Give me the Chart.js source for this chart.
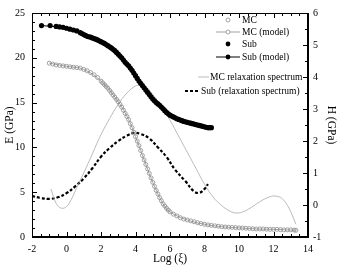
<!DOCTYPE html>
<html>
<head>
<meta charset="utf-8">
<script src="https://cdn.jsdelivr.net/npm/chart.js@4/dist/chart.umd.min.js"></script>
<style>
  html, body { margin: 0; padding: 0; background: #fff; }
  #wrap { width: 338px; height: 266px; }
</style>
</head>
<body>
<div id="wrap"><canvas id="chart"></canvas></div>
<script>
// MC measured modulus (open circles)
const mcX = [-1.0, -0.8, -0.6, -0.4, -0.2, 0, 0.2, 0.4, 0.6, 0.8, 1.0, 1.2, 1.4, 1.6, 1.8,
  2.0, 2.1, 2.2, 2.3, 2.4, 2.5, 2.6, 2.7, 2.8, 2.9, 3.0, 3.1, 3.2, 3.3, 3.4, 3.5, 3.6, 3.7, 3.8, 3.9,
  4.0, 4.1, 4.2, 4.3, 4.4, 4.5, 4.6, 4.7, 4.8, 4.9, 5.0, 5.1, 5.2, 5.3, 5.4, 5.5, 5.6, 5.7, 5.8, 5.9,
  6.0, 6.2, 6.4, 6.6, 6.8, 7.0, 7.2, 7.4, 7.6, 7.8, 8.0, 8.2, 8.4, 8.6, 8.8, 9.0, 9.2, 9.4, 9.6, 9.8,
  10.0, 10.2, 10.4, 10.6, 10.8, 11.0, 11.2, 11.4, 11.6, 11.8, 12.0, 12.2, 12.4, 12.6, 12.8, 13.0, 13.2, 13.3];
const mcE = [19.4, 19.3, 19.2, 19.15, 19.1, 19.05, 19.0, 18.95, 18.9, 18.85, 18.7, 18.55, 18.35, 18.1, 17.8,
  17.4, 17.2, 17.0, 16.8, 16.6, 16.35, 16.1, 15.85, 15.6, 15.35, 15.1, 14.8, 14.5, 14.15, 13.8, 13.45, 13.1, 12.65, 12.2, 11.7,
  11.2, 10.7, 10.2, 9.65, 9.1, 8.6, 8.1, 7.6, 7.1, 6.6, 6.1, 5.65, 5.2, 4.8, 4.4, 4.05, 3.7, 3.45, 3.2, 3.0,
  2.8, 2.55, 2.35, 2.15, 2.0, 1.9, 1.8, 1.7, 1.6, 1.5, 1.42, 1.35, 1.3, 1.25, 1.2, 1.15, 1.12, 1.1, 1.07, 1.05,
  1.02, 1.0, 0.97, 0.95, 0.92, 0.9, 0.9, 0.9, 0.87, 0.85, 0.85, 0.85, 0.82, 0.8, 0.8, 0.8, 0.77, 0.75];

// MC model curve
const mcModelX = [-1.0, 0, 1.0, 2.0, 3.0, 3.6, 4.0, 4.6, 5.0, 5.6, 6.0, 7.0, 8.0, 9.0, 10.0, 11.0, 12.0, 13.3];
const mcModelE = [19.4, 19.05, 18.7, 17.4, 15.1, 13.1, 11.2, 8.1, 6.1, 3.7, 2.8, 1.9, 1.42, 1.15, 1.02, 0.9, 0.85, 0.75];

// Sub measured modulus (filled circles)
const subX = [-1.45, -0.95, -0.6, -0.4, -0.2, 0, 0.2, 0.4, 0.6,
  0.8, 0.9, 1.0, 1.1, 1.2, 1.3, 1.4, 1.5, 1.6, 1.7, 1.8, 1.9, 2.0, 2.1, 2.2, 2.3, 2.4, 2.5, 2.6, 2.7, 2.8, 2.9,
  3.0, 3.1, 3.2, 3.3, 3.4, 3.5, 3.6, 3.7, 3.8, 3.9, 4.0, 4.1, 4.2, 4.3, 4.4, 4.5, 4.6, 4.7, 4.8, 4.9,
  5.0, 5.1, 5.2, 5.3, 5.4, 5.5, 5.6, 5.7, 5.8, 5.9, 6.0, 6.1, 6.2, 6.3, 6.4, 6.5, 6.6, 6.7, 6.8, 6.9,
  7.0, 7.1, 7.2, 7.3, 7.4, 7.5, 7.6, 7.7, 7.8, 7.9, 8.0, 8.1, 8.2, 8.3, 8.4];
const subE = [23.6, 23.6, 23.5, 23.45, 23.4, 23.3, 23.2, 23.1, 23.0,
  22.8, 22.7, 22.6, 22.5, 22.4, 22.35, 22.3, 22.22, 22.15, 22.08, 22.0, 21.9, 21.8, 21.7, 21.6, 21.48, 21.35, 21.22, 21.1, 20.95, 20.8, 20.6,
  20.4, 20.2, 20.0, 19.75, 19.5, 19.3, 19.1, 18.85, 18.6, 18.3, 18.0, 17.7, 17.4, 17.15, 16.9, 16.65, 16.4, 16.15, 15.9, 15.65,
  15.4, 15.2, 15.0, 14.85, 14.7, 14.5, 14.3, 14.1, 13.9, 13.75, 13.6, 13.5, 13.4, 13.3, 13.2, 13.12, 13.05, 12.98, 12.9, 12.85,
  12.8, 12.75, 12.7, 12.65, 12.6, 12.55, 12.5, 12.45, 12.4, 12.35, 12.3, 12.25, 12.2, 12.2, 12.2];

// Sub model curve
const subModelX = [-1.45, 0, 1.0, 2.0, 3.0, 4.0, 5.0, 6.0, 7.0, 8.4];
const subModelE = [23.6, 23.3, 22.6, 21.8, 20.4, 18.0, 15.4, 13.6, 12.8, 12.2];

// relaxation spectra (right axis, H)
const mcSpecX = [-0.9, -0.6, -0.3, 0, 0.3, 0.6, 1.0, 1.5, 2.0, 2.5, 3.0, 3.5, 4.0, 4.3, 4.6, 5.0, 5.5, 6.0, 6.5, 7.0,
  7.5, 8.0, 8.5, 9.0, 9.5, 9.8, 10.2, 10.7, 11.2, 11.7, 12.1, 12.5, 12.9, 13.3];
const mcSpecH = [0.5, 0.05, -0.1, -0.05, 0.2, 0.55, 1.0, 1.6, 2.2, 2.7, 3.15, 3.5, 3.72, 3.75, 3.7, 3.45, 3.1, 2.65, 2.15, 1.65,
  1.15, 0.65, 0.25, -0.02, -0.2, -0.25, -0.22, -0.08, 0.1, 0.24, 0.28, 0.2, -0.1, -0.6];

const subSpecX = [-2, -1.5, -1.0, -0.5, 0, 0.5, 1.0, 1.5, 2.0, 2.5, 3.0, 3.5, 3.9, 4.3, 4.8, 5.3, 5.8, 6.3, 6.9, 7.4, 7.7, 8.0, 8.2];
const subSpecH = [0.28, 0.22, 0.19, 0.24, 0.37, 0.58, 0.83, 1.15, 1.51, 1.78, 2.0, 2.17, 2.25, 2.22, 2.08, 1.8, 1.5, 1.1, 0.74, 0.42, 0.38, 0.5, 0.65];

const xTicks = [-2, 0, 2, 4, 6, 8, 10, 12, 14];
const eTicks = [0, 5, 10, 15, 20, 25];
const hTicks = [-1, 0, 1, 2, 3, 4, 5, 6];

const FONT = '"Liberation Serif", "DejaVu Serif", serif';
const MC_GREY = '#8c8c8c';

function pts(xs, ys) {
  return xs.map((x, i) => ({ x: x, y: ys[i] }));
}

// inward ticks + top frame, like the original plot
const tickPlugin = {
  id: 'inTicks',
  afterDraw(chart) {
    const ctx = chart.ctx;
    const a = chart.chartArea;
    const sx = chart.scales.x, sy = chart.scales.y, sh = chart.scales.y1;
    ctx.save();
    ctx.strokeStyle = '#000';
    ctx.lineWidth = 1;
    ctx.strokeRect(a.left + 0.5, a.top + 0.5, a.right - a.left - 1, a.bottom - a.top - 1);
    ctx.beginPath();
    for (let v = -2; v <= 14.001; v += 0.5) {
      const p = Math.round(sx.getPixelForValue(v)) + 0.5;
      const len = (Math.abs(v % 2) < 0.01) ? 5 : 3;
      ctx.moveTo(p, a.bottom); ctx.lineTo(p, a.bottom - len);
      ctx.moveTo(p, a.top); ctx.lineTo(p, a.top + len);
    }
    for (let v = 0; v <= 25.001; v += 1) {
      const p = Math.round(sy.getPixelForValue(v)) + 0.5;
      const len = (v % 5 === 0) ? 5 : 3;
      ctx.moveTo(a.left, p); ctx.lineTo(a.left + len, p);
    }
    for (let v = -1; v <= 6.001; v += 0.5) {
      const p = Math.round(sh.getPixelForValue(v)) + 0.5;
      const len = (Math.abs(v % 1) < 0.01) ? 5 : 3;
      ctx.moveTo(a.right, p); ctx.lineTo(a.right - len, p);
    }
    ctx.stroke();
    ctx.restore();
  }
};

// legend drawn inside the plot, upper right
const legendPlugin = {
  id: 'boxLegend',
  afterDraw(chart) {
    const ctx = chart.ctx;
    ctx.save();
    ctx.font = '9.5px ' + FONT;
    ctx.fillStyle = '#000';
    ctx.textBaseline = 'middle';
    ctx.textAlign = 'left';

    function circle(x, y, filled) {
      ctx.beginPath();
      ctx.arc(x, y, filled ? 2.4 : 2, 0, Math.PI * 2);
      if (filled) { ctx.fillStyle = '#000'; ctx.fill(); }
      else { ctx.fillStyle = '#fff'; ctx.fill(); ctx.strokeStyle = MC_GREY; ctx.lineWidth = 0.8; ctx.stroke(); }
      ctx.fillStyle = '#000';
    }
    function line(x1, x2, y, color, w, dash) {
      ctx.beginPath();
      ctx.setLineDash(dash || []);
      ctx.strokeStyle = color; ctx.lineWidth = w;
      ctx.moveTo(x1, y); ctx.lineTo(x2, y); ctx.stroke();
      ctx.setLineDash([]);
    }

    circle(228, 20, false);
    ctx.fillText('MC', 242, 20);

    line(216, 240, 32, MC_GREY, 0.8);
    circle(228, 32, false);
    ctx.fillText('MC (model)', 242, 32);

    circle(228, 44, true);
    ctx.fillText('Sub', 242, 44);

    line(216, 240, 57, '#000', 1);
    circle(228, 57, true);
    ctx.fillText('Sub (model)', 242, 57);

    line(198, 209, 77, '#aaa', 0.8);
    ctx.fillText('MC relaxation spectrum', 210, 77);

    line(185, 200, 91, '#000', 2.2, [3, 2]);
    ctx.fillText('Sub (relaxation spectrum)', 201, 91);
    ctx.restore();
  }
};

new Chart(document.getElementById('chart'), {
  type: 'scatter',
  data: {
    datasets: [
      {
        label: 'Sub',
        data: pts(subX, subE),
        yAxisID: 'y',
        showLine: false,
        pointRadius: 2.6,
        pointBackgroundColor: '#000',
        pointBorderColor: '#000',
        pointBorderWidth: 0
      },
      {
        label: 'Sub (model)',
        data: pts(subModelX, subModelE),
        yAxisID: 'y',
        showLine: true,
        borderColor: '#000',
        borderWidth: 1,
        pointRadius: 0,
        tension: 0.4
      },
      {
        label: 'MC',
        data: pts(mcX, mcE),
        yAxisID: 'y',
        showLine: false,
        pointRadius: 2,
        pointBackgroundColor: 'rgba(255,255,255,0)',
        pointBorderColor: MC_GREY,
        pointBorderWidth: 0.8
      },
      {
        label: 'MC (model)',
        data: pts(mcModelX, mcModelE),
        yAxisID: 'y',
        showLine: true,
        borderColor: MC_GREY,
        borderWidth: 0.8,
        pointRadius: 0,
        tension: 0.4
      },
      {
        label: 'MC relaxation spectrum',
        data: pts(mcSpecX, mcSpecH),
        yAxisID: 'y1',
        showLine: true,
        borderColor: '#aaa',
        borderWidth: 0.8,
        pointRadius: 0,
        tension: 0.4
      },
      {
        label: 'Sub (relaxation spectrum)',
        data: pts(subSpecX, subSpecH),
        yAxisID: 'y1',
        showLine: true,
        borderColor: '#000',
        borderWidth: 2.2,
        borderDash: [3, 2],
        pointRadius: 0,
        tension: 0.4
      }
    ]
  },
  options: {
    responsive: true,
    maintainAspectRatio: false,
    animation: false,
    layout: { padding: { top: 8, right: 0, bottom: 0, left: 0 } },
    plugins: {
      legend: { display: false },
      tooltip: { enabled: false }
    },
    scales: {
      x: {
        type: 'linear',
        min: -2, max: 14,
        afterBuildTicks: (s) => { s.ticks = xTicks.map(v => ({ value: v })); },
        afterFit: (s) => { s.height = 29; },
        grid: { drawOnChartArea: false, drawTicks: false },
        border: { display: true, color: '#000', width: 1 },
        ticks: { color: '#000', padding: 6, font: { family: FONT, size: 10 } },
        title: { display: true, text: 'Log (ξ)', color: '#000', padding: { top: 3, bottom: 0 }, font: { family: FONT, size: 11.5 } }
      },
      y: {
        type: 'linear',
        position: 'left',
        min: 0, max: 25,
        afterBuildTicks: (s) => { s.ticks = eTicks.map(v => ({ value: v })); },
        afterFit: (s) => { s.width = 32; },
        grid: { drawOnChartArea: false, drawTicks: false },
        border: { display: true, color: '#000', width: 1 },
        ticks: { color: '#000', padding: 7, font: { family: FONT, size: 10 } },
        title: { display: true, text: 'E (GPa)', color: '#000', padding: { top: 3, bottom: 0 }, font: { family: FONT, size: 11.5 } }
      },
      y1: {
        type: 'linear',
        position: 'right',
        min: -1, max: 6,
        afterBuildTicks: (s) => { s.ticks = hTicks.map(v => ({ value: v })); },
        afterFit: (s) => { s.width = 30; },
        grid: { drawOnChartArea: false, drawTicks: false },
        border: { display: true, color: '#000', width: 1 },
        ticks: { color: '#000', padding: 5, font: { family: FONT, size: 10 } },
        title: { display: true, text: 'H (GPa)', color: '#000', padding: { top: 0, bottom: 0 }, font: { family: FONT, size: 11.5 } }
      }
    }
  },
  plugins: [tickPlugin, legendPlugin]
});
</script>
</body>
</html>
